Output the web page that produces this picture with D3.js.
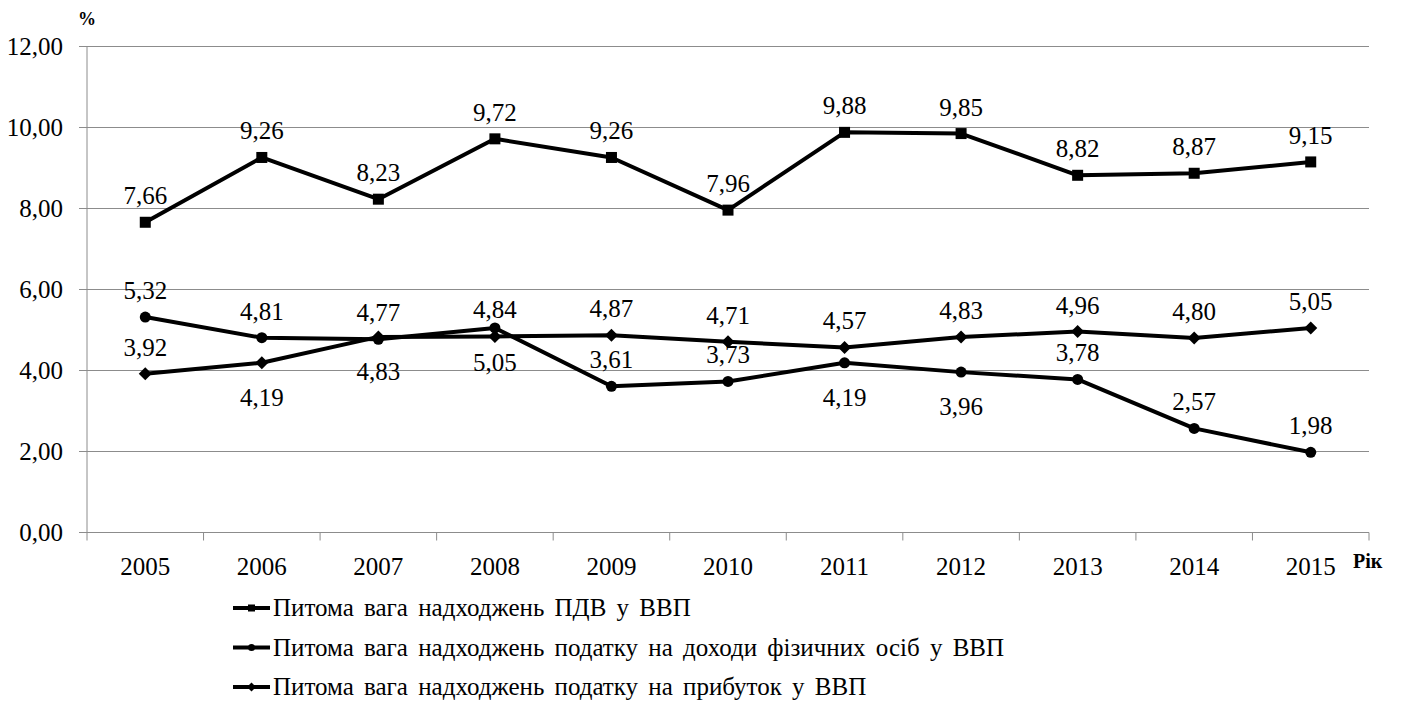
<!DOCTYPE html>
<html>
<head>
<meta charset="utf-8">
<script src="https://cdn.jsdelivr.net/npm/d3@7"></script>
</head>
<body style="margin:0">
<svg width="1401" height="706"></svg>
<script>
const years = ['2005', '2006', '2007', '2008', '2009', '2010', '2011', '2012', '2013', '2014', '2015'];

const vatValues    = [7.66, 9.26, 8.23, 9.72, 9.26, 7.96, 9.88, 9.85, 8.82, 8.87, 9.15];
const incomeValues = [5.32, 4.81, 4.77, 5.05, 3.61, 3.73, 4.19, 3.96, 3.78, 2.57, 1.98];
const profitValues = [3.92, 4.19, 4.83, 4.84, 4.87, 4.71, 4.57, 4.83, 4.96, 4.80, 5.05];

// where each data label goes: a = above the point, b = below
const vatLabelSide    = ['a', 'a', 'a', 'a', 'a', 'a', 'a', 'a', 'a', 'a', 'a'];
const incomeLabelSide = ['a', 'a', 'a', 'b', 'a', 'a', 'b', 'b', 'a', 'a', 'a'];
const profitLabelSide = ['a', 'b', 'b', 'a', 'a', 'a', 'a', 'a', 'a', 'a', 'a'];

const yTicks = [0, 2, 4, 6, 8, 10, 12];

const seriesNames = [
    'Питома вага надходжень ПДВ у ВВП',
    'Питома вага надходжень податку на доходи фізичних осіб у ВВП',
    'Питома вага надходжень податку на прибуток у ВВП'
];

const series = [
    { name: seriesNames[0], values: vatValues, sides: vatLabelSide, marker: 'square' },
    { name: seriesNames[1], values: incomeValues, sides: incomeLabelSide, marker: 'circle' },
    { name: seriesNames[2], values: profitValues, sides: profitLabelSide, marker: 'diamond' }
];

const plotLeft = 87, plotRight = 1369, plotTop = 46.5, plotBottom = 532.5;
const fmt = v => d3.format('.2f')(v).replace('.', ',');
const fontSize = 25;
const serif = '"Liberation Serif", "Times New Roman", Tinos';

const svg = d3.select('svg');

// same call the font test used, on each text as it is made
const addText = (sel) => sel.append('text').style('font-family', serif);

const x = d3.scaleBand().domain(years).range([plotLeft, plotRight]);
const y = d3.scaleLinear().domain([0, 12]).range([plotBottom, plotTop]);

// horizontal gridlines
svg.append('g')
    .selectAll('line')
    .data(yTicks.filter(d => d > 0))
    .join('line')
    .attr('x1', plotLeft).attr('x2', plotRight)
    .attr('y1', d => y(d)).attr('y2', d => y(d))
    .attr('stroke', '#8c8c8c').attr('stroke-width', 1);

// y axis: line, ticks and labels
svg.append('line')
    .attr('x1', plotLeft).attr('x2', plotLeft)
    .attr('y1', plotTop).attr('y2', plotBottom)
    .attr('stroke', '#8c8c8c');
svg.append('g')
    .selectAll('line')
    .data(yTicks)
    .join('line')
    .attr('x1', plotLeft - 8).attr('x2', plotLeft)
    .attr('y1', d => y(d)).attr('y2', d => y(d))
    .attr('stroke', '#8c8c8c');
svg.append('g')
    .selectAll('text')
    .data(yTicks)
    .join(enter => enter.append('text').style('font-family', serif))
    .attr('x', plotLeft - 24)
    .attr('y', d => y(d))
    .attr('dy', '0.34em')
    .attr('text-anchor', 'end')
    .attr('font-size', fontSize)
    .text(fmt);

// x axis: line, ticks between categories, labels
svg.append('line')
    .attr('x1', plotLeft).attr('x2', plotRight)
    .attr('y1', plotBottom).attr('y2', plotBottom)
    .attr('stroke', '#8c8c8c');
const boundaries = years.map(d => x(d)).concat([plotRight]);
svg.append('g')
    .selectAll('line')
    .data(boundaries)
    .join('line')
    .attr('x1', d => d).attr('x2', d => d)
    .attr('y1', plotBottom).attr('y2', plotBottom + 8)
    .attr('stroke', '#8c8c8c');

const cx = d => x(d) + x.bandwidth() / 2;

svg.append('g')
    .selectAll('text')
    .data(years)
    .join(enter => enter.append('text').style('font-family', serif))
    .attr('x', cx)
    .attr('y', plotBottom + 42)
    .attr('text-anchor', 'middle')
    .attr('font-size', fontSize)
    .text(d => d);

// axis titles
addText(svg)
    .attr('x', 78).attr('y', 25)
    .attr('font-size', 18).attr('font-weight', 'bold')
    .text('%');
addText(svg)
    .attr('x', 1353).attr('y', 568)
    .attr('font-size', 20).attr('font-weight', 'bold')
    .text('Рік');

const drawMarker = (g, type, size) => {
    if (type === 'square') {
        g.append('rect')
            .attr('x', -size / 2).attr('y', -size / 2)
            .attr('width', size).attr('height', size)
            .attr('fill', '#000');
    } else if (type === 'circle') {
        g.append('circle').attr('r', size / 2).attr('fill', '#000');
    } else {
        const s = size / 2 + 1;
        g.append('path')
            .attr('d', `M0,${-s}L${s},0L0,${s}L${-s},0Z`)
            .attr('fill', '#000');
    }
};

const line = d3.line()
    .x((d, i) => cx(years[i]))
    .y(d => y(d));

series.forEach(s => {
    svg.append('path')
        .datum(s.values)
        .attr('d', line)
        .attr('fill', 'none')
        .attr('stroke', '#000')
        .attr('stroke-width', 4)
        .attr('stroke-linejoin', 'round');

    svg.append('g')
        .selectAll('g')
        .data(s.values)
        .join('g')
        .attr('transform', (d, i) => `translate(${cx(years[i])},${y(d)})`)
        .each(function () { drawMarker(d3.select(this), s.marker, 11); });
});

// data labels on top
series.forEach(s => {
    svg.append('g')
        .selectAll('text')
        .data(s.values)
        .join(enter => enter.append('text').style('font-family', serif))
        .attr('x', (d, i) => cx(years[i]))
        .attr('y', (d, i) => y(d) + (s.sides[i] === 'a' ? -18 : 43))
        .attr('text-anchor', 'middle')
        .attr('font-size', fontSize)
        .text(d => fmt(d));
});

// legend
const legend = svg.append('g')
    .selectAll('g')
    .data(series)
    .join('g')
    .attr('transform', (d, i) => `translate(233,${608 + i * 39.5})`);

legend.append('line')
    .attr('x1', 0).attr('x2', 37)
    .attr('stroke', '#000').attr('stroke-width', 4);
legend.append('g')
    .attr('transform', 'translate(18.5,0)')
    .each(function (d) { drawMarker(d3.select(this), d.marker, 7); });
addText(legend)
    .attr('x', 40).attr('y', 8)
    .attr('font-size', fontSize)
    .attr('word-spacing', 4)
    .text(d => d.name);

// re-apply once the local font is ready, in case it loads late
if (document.fonts && document.fonts.load) {
    document.fonts.load(`${fontSize}px "Liberation Serif"`).then(() => {
        svg.selectAll('text').style('font-family', serif);
    });
}
</script>
</body>
</html>
